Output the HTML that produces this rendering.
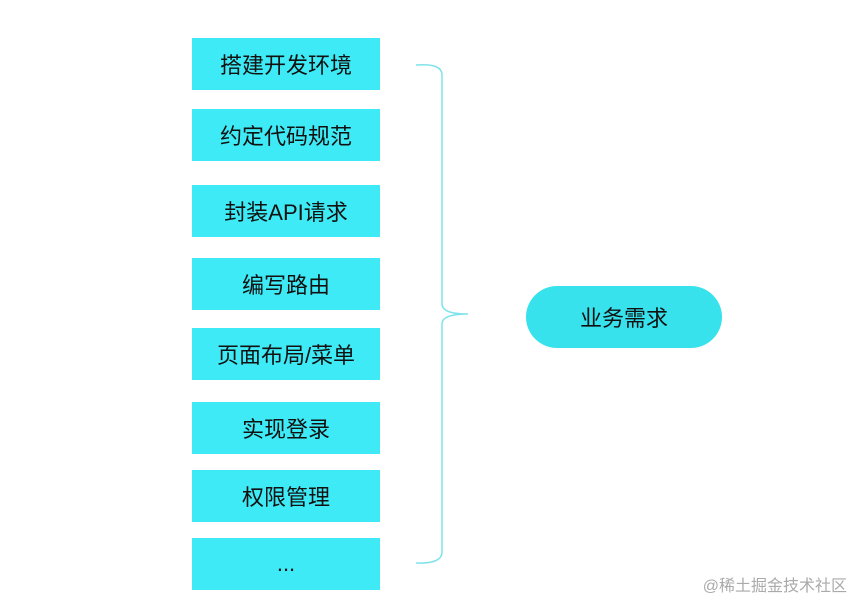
<!DOCTYPE html>
<html><head><meta charset="utf-8"><style>
body{margin:0;width:861px;height:612px;background:#fff;position:relative;overflow:hidden;font-family:"Liberation Sans","Noto Sans CJK SC",sans-serif}
.b{position:absolute;left:192px;width:188px;height:52px;background:#3deaf5;color:#111;font-size:22px;display:flex;align-items:center;justify-content:center}
.p{position:absolute;left:526px;top:286px;width:196px;height:62px;border-radius:31px;background:#38e2ec;color:#111;font-size:22px;display:flex;align-items:center;justify-content:center}
.w{position:absolute;right:14px;top:572px;font-size:16px;color:#aaa}
</style></head><body>
<div class="b" style="top:38px">搭建开发环境</div>
<div class="b" style="top:109px">约定代码规范</div>
<div class="b" style="top:185px">封装API请求</div>
<div class="b" style="top:258px">编写路由</div>
<div class="b" style="top:328px">页面布局/菜单</div>
<div class="b" style="top:402px">实现登录</div>
<div class="b" style="top:470px">权限管理</div>
<div class="b" style="top:538px">...</div>
<svg style="position:absolute;left:0;top:0" width="861" height="612">
<path d="M416 65 Q442 63 442 75 L442 304 Q442 314 468 314 Q442 314 442 324 L442 552 Q442 564 416 563" fill="none" stroke="#7fe3ec" stroke-width="1.5"/>
</svg>
<div class="p">业务需求</div>
<div class="w">@稀土掘金技术社区</div>
</body></html>
